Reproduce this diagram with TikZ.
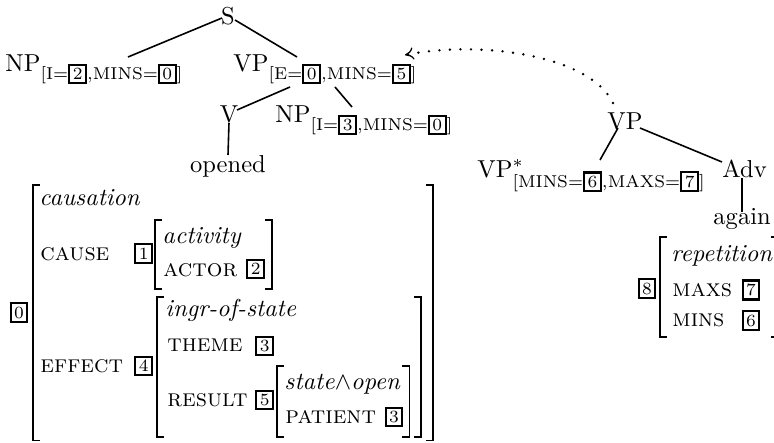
\documentclass[tikz,border=0pt]{standalone}
\usetikzlibrary{arrows.meta}

% boxed co-indexation tag
\newcommand{\tagbox}[1]{{\setlength{\fboxsep}{1pt}\setlength{\fboxrule}{0.85pt}\fbox{\scriptsize #1}}}
% square brackets of an attribute-value matrix: left x, top y, right x, bottom y
\newcommand{\avmbrackets}[4]{%
  \draw[avmline] (#1+7,#2) -- (#1,#2) -- (#1,#4) -- (#1+7,#4);
  \draw[avmline] (#3-7,#2) -- (#3,#2) -- (#3,#4) -- (#3-7,#4);}

\begin{document}
\begin{tikzpicture}[x=0.408pt,y=-0.408pt,
  lbl/.style={inner sep=0pt, anchor=base west},
  tag/.style={inner sep=0pt, anchor=center},
  branch/.style={line width=0.65pt},
  avmline/.style={line width=0.45pt},
  adjoin/.style={line width=1.1pt, line cap=round, dash pattern=on 0pt off 4.3pt,
    -{To[line width=0.5pt, length=3.5pt, width=5pt]}}]
\useasboundingbox (0,0) rectangle (774,443);

% ---------- initial tree ----------
\node[inner sep=0pt, anchor=base] (S) at (228,25) {S};
\node[lbl] (NPa) at (5,72) {$\mathrm{NP}_{[\mathrm{I}=\tagbox{2},\mathrm{MINS}=\tagbox{0}]}$};
\node[lbl] (VPa) at (233,72) {$\mathrm{VP}_{[\mathrm{E}=\tagbox{0},\mathrm{MINS}=\tagbox{5}]}$};
\node[inner sep=0pt, anchor=base] (V) at (229,123) {V};
\node[lbl] (NPb) at (275,123) {$\mathrm{NP}_{[\mathrm{I}=\tagbox{3},\mathrm{MINS}=\tagbox{0}]}$};
\node[inner sep=0pt, anchor=base] (opened) at (228,173) {opened};

\draw[branch] ([shift={(-6,-7)}]S.base) -- ([shift={(123,-15)}]NPa.base west);
\draw[branch] ([shift={(7,-5)}]S.base) -- ([shift={(64,-15)}]VPa.base west);
\draw[branch] ([shift={(57,15)}]VPa.base west) -- ([shift={(8,-13)}]V.base);
\draw[branch] ([shift={(102,15)}]VPa.base west) -- ([shift={(77,-16)}]NPb.base west);
\draw[branch] (V.base) -- ([shift={(0,-18)}]opened.base);

% ---------- auxiliary tree ----------
\node[lbl] (VPb) at (607,130) {VP};
\node[lbl] (VPs) at (477,178) {$\mathrm{VP}^{*}_{[\mathrm{MINS}=\tagbox{6},\mathrm{MAXS}=\tagbox{7}]}$};
\node[lbl] (Adv) at (722,178) {Adv};
\node[lbl] (again) at (713,225) {again};

\draw[branch] ([shift={(11,-2)}]VPb.base west) -- ([shift={(123,-18)}]VPs.base west);
\draw[branch] ([shift={(33,-2)}]VPb.base west) -- ([shift={(0,-16)}]Adv.base west);
\draw[branch] ([shift={(20,0)}]Adv.base west) -- ([shift={(29,-13)}]again.base west);

% adjunction arrow
\draw[adjoin] ([shift={(6,-27)}]VPb.base west)
  .. controls (590,55) and (480,40) .. ([shift={(172,-17)}]VPa.base west);

% ---------- semantics of "opened" ----------
\node[tag] (t0) at (19,312.5) {\tagbox{0}};
\avmbrackets{33}{185}{433}{440.5}
\node[lbl] (caus) at (39,206) {\textit{causation}};
\node[lbl] (cause) at (40,261) {\textsc{cause}};
\node[tag] (t1) at (143.8,253.5) {\tagbox{1}};
\avmbrackets{155}{220}{272}{289}
\node[lbl] (act) at (162,244) {\textit{activity}};
\node[lbl] (actor) at (163,277) {\textsc{actor}};
\node[tag] (t2) at (255.8,269) {\tagbox{2}};

\node[lbl] (effect) at (40,373) {\textsc{effect}};
\node[tag] (t4) at (143.8,366) {\tagbox{4}};
\avmbrackets{157}{297}{421}{437}
\node[lbl] (ingr) at (165,317) {\textit{ingr-of-state}};
\node[lbl] (theme) at (167,352) {\textsc{theme}};
\node[tag] (t3a) at (264.7,346) {\tagbox{3}};
\node[lbl] (result) at (167,407) {\textsc{result}};
\node[tag] (t5) at (264.7,400) {\tagbox{5}};
\avmbrackets{277}{366}{409.5}{437}
\node[lbl] (state) at (284,390) {\textit{state}$\wedge$\textit{open}};
\node[lbl] (patient) at (285,424) {\textsc{patient}};
\node[tag] (t3b) at (394,417) {\tagbox{3}};

% ---------- semantics of "again" ----------
\node[tag] (t8) at (647,288.5) {\tagbox{8}};
\avmbrackets{660}{237}{778}{337}
\node[lbl] (rep) at (671,262) {\textit{repetition}};
\node[lbl] (maxs) at (672,297) {\textsc{maxs}};
\node[tag] (t7) at (751,290) {\tagbox{7}};
\node[lbl] (mins) at (672,327) {\textsc{mins}};
\node[tag] (t6) at (751,320.5) {\tagbox{6}};
\end{tikzpicture}
\end{document}
